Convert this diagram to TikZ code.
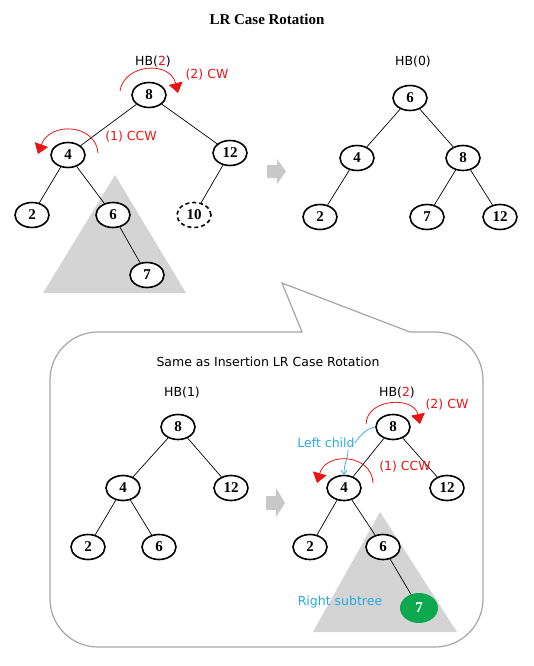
\documentclass[tikz,border=0pt]{standalone}
\usepackage{fontspec}
\setmainfont{Liberation Serif}
\newfontfamily\lblfont{DejaVu Sans}
\usetikzlibrary{shapes.geometric,arrows.meta}
\definecolor{rotred}{RGB}{235,20,20}
\definecolor{cyanlbl}{RGB}{41,171,226}
\definecolor{subgray}{RGB}{212,212,212}
\definecolor{arrgray}{RGB}{200,200,200}
\definecolor{callgray}{RGB}{165,165,165}
\definecolor{greennode}{RGB}{12,168,80}
\begin{document}
\begin{tikzpicture}[x=1pt,y=-1pt,
  tnode/.style={ellipse,draw,line width=1.6pt,fill=white,minimum width=34pt,minimum height=25pt,inner sep=0pt,font=\fontsize{15}{15}\selectfont\bfseries},
  edge/.style={line width=0.7pt},
  lbl/.style={font=\lblfont\fontsize{12.5}{13}\selectfont,inner sep=0pt},
  redlbl/.style={lbl,text=rotred},
  rotarc/.style={rotred,line width=0.8pt,-{Triangle[width=14pt,length=10pt]}},
  subtri/.style={fill=subgray,draw=none},
  blockarrow/.style={fill=arrgray,draw=none}]
\useasboundingbox (0,0) rectangle (533,666);
\fill[white] (0,0) rectangle (533,666);

% title
\node[font=\fontsize{15}{15}\selectfont\bfseries,inner sep=0pt] (title) at (267,19) {LR Case Rotation};

% ---------- top-left tree ----------
\fill[subtri] (115,175) -- (43,293) -- (186,293) -- cycle;
\node[tnode] (a8) at (149,95) {8};
\node[tnode] (a4) at (68,155) {4};
\node[tnode] (a12) at (230,153) {12};
\node[tnode] (a2) at (32,215) {2};
\node[tnode] (a6) at (113,215) {6};
\node[tnode,dash pattern=on 4pt off 3pt] (a10) at (194,215) {10};
\node[tnode] (a7) at (147,275) {7};
\draw[edge] (a8) -- (a4);
\draw[edge] (a8) -- (a12);
\draw[edge] (a4) -- (a2);
\draw[edge] (a4) -- (a6);
\draw[edge] (a12) -- (a10);
\draw[edge] (a6) -- (a7);
\node[lbl] (ahb) at (153,62) {HB(\textcolor{rotred}{2})};
\node[redlbl] (acw) at (207,75) {(2) CW};
\node[redlbl] (accw) at (131,137) {(1) CCW};
\draw[rotarc] (120,91) .. controls (124,64) and (170,60) .. (178,93);
\draw[rotarc] (98,153) .. controls (96,124) and (50,121) .. (38,154);

% arrow top
\fill[blockarrow] (267,165) -- (277,165) -- (277,159) -- (286,171.5) -- (277,184) -- (277,178) -- (267,178) -- cycle;

% ---------- top-right tree ----------
\node[lbl] (bhb) at (413,62) {HB(0)};
\node[tnode] (b6) at (410,98) {6};
\node[tnode] (b4) at (357,158) {4};
\node[tnode] (b8) at (463,158) {8};
\node[tnode] (b2) at (320,217) {2};
\node[tnode] (b7) at (427,217) {7};
\node[tnode] (b12) at (500,217) {12};
\draw[edge] (b6) -- (b4);
\draw[edge] (b6) -- (b8);
\draw[edge] (b4) -- (b2);
\draw[edge] (b8) -- (b7);
\draw[edge] (b8) -- (b12);

% ---------- callout ----------
\draw[callgray,line width=1.2pt,line join=miter]
  (302,332) -- (282,283) -- (410,332) -- (435,332)
  arc[start angle=-90,end angle=0,radius=48] -- (483,599)
  arc[start angle=0,end angle=90,radius=48] -- (98,647)
  arc[start angle=90,end angle=180,radius=48] -- (50,380)
  arc[start angle=180,end angle=270,radius=48] -- cycle;
\node[lbl] (sub) at (268,362) {Same as Insertion LR Case Rotation};

% ---------- bottom-left tree ----------
\node[lbl] (chb) at (182,393) {HB(1)};
\node[tnode] (c8) at (178,427) {8};
\node[tnode] (c4) at (123,488) {4};
\node[tnode] (c12) at (231,488) {12};
\node[tnode] (c2) at (88,547) {2};
\node[tnode] (c6) at (159,547) {6};
\draw[edge] (c8) -- (c4);
\draw[edge] (c8) -- (c12);
\draw[edge] (c4) -- (c2);
\draw[edge] (c4) -- (c6);

% arrow bottom
\fill[blockarrow] (266,496) -- (276,496) -- (276,488) -- (285,503) -- (276,517) -- (276,510) -- (266,510) -- cycle;

% ---------- bottom-right tree ----------
\fill[subtri] (380,512) -- (313,632) -- (457,632) -- cycle;
\node[lbl] (dhb) at (397,393) {HB(\textcolor{rotred}{2})};
\node[tnode] (d8) at (393,427) {8};
\node[tnode] (d4) at (344,488) {4};
\node[tnode] (d12) at (447,488) {12};
\node[tnode] (d2) at (310,547) {2};
\node[tnode] (d6) at (383,547) {6};
\node[ellipse,fill=greennode,draw=none,minimum width=38pt,minimum height=30pt,inner sep=0pt,text=white,font=\fontsize{15}{15}\selectfont\bfseries] (d7) at (419,608) {7};
\draw[edge] (d8) -- (d4);
\draw[edge] (d8) -- (d12);
\draw[edge] (d4) -- (d2);
\draw[edge] (d4) -- (d6);
\draw[edge] (d6) -- (d7);
\node[redlbl] (dcw) at (447,405) {(2) CW};
\node[redlbl] (dccw) at (405,467) {(1) CCW};
\draw[rotarc] (366,424) .. controls (367,398) and (414,396) .. (420,424);
\draw[rotarc] (373,483) .. controls (372,454) and (326,451) .. (317,483);
\node[lbl,text=cyanlbl] (lc) at (326,443) {Left child};
\node[lbl,text=cyanlbl] (rs) at (340,602) {Right subtree};
\draw[cyanlbl,line width=0.7pt] (lc.east) .. controls (362,433) and (368,428) .. (d8.west);
\draw[cyanlbl,line width=0.7pt,-{Straight Barb[length=4pt,width=6pt]}] (348,450) .. controls (348,460) and (344,462) .. (d4.north);
\end{tikzpicture}
\end{document}
